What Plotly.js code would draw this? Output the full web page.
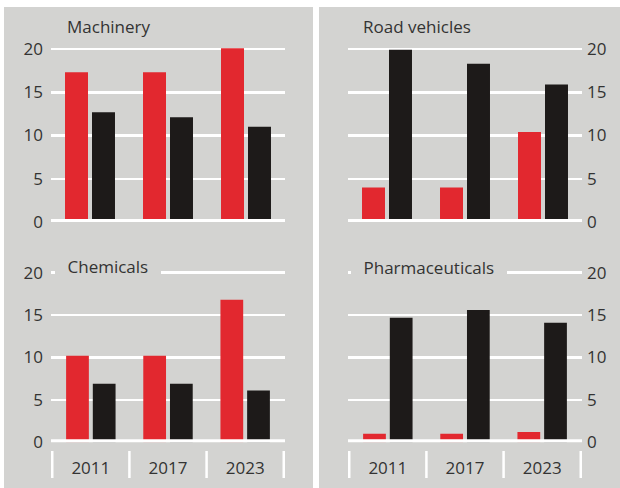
<!DOCTYPE html>
<html>
<head>
<meta charset="utf-8">
<script src="https://cdn.plot.ly/plotly-3.0.1.min.js"></script>
<style>html,body{margin:0;padding:0;background:#fff;}#chart{width:620px;height:488px;}</style>
</head>
<body>
<div id="chart"></div>
<script>
const categories = ['2011', '2017', '2023'];
const panelTitles = ['Machinery', 'Road vehicles', 'Chemicals', 'Pharmaceuticals'];
const machineryRed = [17.3, 17.3, 20.1];
const machineryBlack = [12.7, 12.1, 11.0];
const roadRed = [4.0, 4.0, 10.4];
const roadBlack = [19.9, 18.3, 15.9];
const chemicalsRed = [10.2, 10.2, 16.8];
const chemicalsBlack = [6.9, 6.9, 6.1];
const pharmaRed = [1.0, 1.0, 1.2];
const pharmaBlack = [14.7, 15.6, 14.1];
const yTicks = [0, 5, 10, 15, 20];

const RED = '#e2282f', BLACK = '#1d1a19', GREY = '#d3d3d1', TXT = '#333333';
const W = 620, H = 488;
const fx = p => p / W;
const fy = p => 1 - p / H;

const series = [
  [machineryRed, machineryBlack],
  [roadRed, roadBlack],
  [chemicalsRed, chemicalsBlack],
  [pharmaRed, pharmaBlack]
];
const axisIds = [['x', 'y'], ['x2', 'y2'], ['x3', 'y3'], ['x4', 'y4']];

const traces = [];
series.forEach((pair, i) => {
  pair.forEach((vals, j) => {
    traces.push({
      type: 'bar', x: categories, y: vals,
      xaxis: axisIds[i][0], yaxis: axisIds[i][1],
      marker: {color: j === 0 ? RED : BLACK},
      showlegend: false, hoverinfo: 'skip'
    });
  });
});

const font = {family: 'Open Sans, sans-serif', size: 17, color: TXT};
const xLeft = [fx(51), fx(285)], xRight = [fx(348), fx(582)];
const yTop = [fy(222), fy(222 - 21 * 8.65)];
const yBot = [fy(442.3), fy(442.3 - 21 * 8.48)];

function xa(domain, anchor, labels) {
  return {domain: domain, anchor: anchor, type: 'category', showgrid: false, zeroline: false,
    showline: false, ticks: '', showticklabels: labels, tickfont: font, ticklabelstandoff: 14,
    fixedrange: true};
}
function ya(domain, anchor, side) {
  return {domain: domain, anchor: anchor, side: side, range: [0, 21], tickvals: yTicks,
    showgrid: true, gridcolor: '#ffffff', gridwidth: 2.5, zeroline: false, showline: false,
    ticks: '', tickfont: font, ticklabelstandoff: side === 'left' ? 7 : 4, fixedrange: true};
}

const shapes = [
  {type: 'rect', xref: 'paper', yref: 'paper', x0: fx(4), x1: fx(313), y0: 0, y1: fy(7), fillcolor: GREY, line: {width: 0}, layer: 'below'},
  {type: 'rect', xref: 'paper', yref: 'paper', x0: fx(319), x1: 1, y0: 0, y1: fy(7), fillcolor: GREY, line: {width: 0}, layer: 'below'}
];
// thick zero baselines
axisIds.forEach(ids => {
  shapes.push({type: 'line', xref: ids[0] + ' domain', yref: ids[1], x0: 0, x1: 1, y0: 0, y1: 0,
    line: {color: '#ffffff', width: 6}, layer: 'above'});
});
// category separators under the bottom panels
['x3', 'x4'].forEach(xr => {
  for (let k = 0; k <= categories.length; k++) {
    shapes.push({type: 'line', xref: xr, yref: 'paper', x0: k - 0.5, x1: k - 0.5,
      y0: fy(478), y1: fy(451), line: {color: '#ffffff', width: 2.5}});
  }
});

const titlePos = [[67, 27], [363, 27], [67, 266], [363, 267]];
const annotations = panelTitles.map((t, i) => ({
  text: t, xref: 'paper', yref: 'paper', x: fx(titlePos[i][0] - 8), y: fy(titlePos[i][1]),
  xanchor: 'left', yanchor: 'middle', showarrow: false, font: font,
  bgcolor: i >= 2 ? GREY : 'rgba(0,0,0,0)', borderpad: 4, borderwidth: 0
}));
annotations.forEach(a => { a.x = a.x; });

const layout = {
  width: W, height: H, margin: {l: 0, r: 0, t: 0, b: 0},
  paper_bgcolor: '#ffffff', plot_bgcolor: 'rgba(0,0,0,0)',
  font: font, barmode: 'group', bargap: 0.308, bargroupgap: 0.148,
  xaxis: xa(xLeft, 'y', false), yaxis: ya(yTop, 'x', 'left'),
  xaxis2: xa(xRight, 'y2', false), yaxis2: ya(yTop, 'x2', 'right'),
  xaxis3: xa(xLeft, 'y3', true), yaxis3: ya(yBot, 'x3', 'left'),
  xaxis4: xa(xRight, 'y4', true), yaxis4: ya(yBot, 'x4', 'right'),
  shapes: shapes, annotations: annotations
};
// pad annotation boxes horizontally to break the grid line like the original
layout.annotations.forEach((a, i) => {
  if (i >= 2) { a.text = '\u2002' + a.text + '\u2002'; a.x = fx(titlePos[i][0] - 12); }
  else { a.x = fx(titlePos[i][0]); a.borderpad = 0; }
});

Plotly.newPlot('chart', traces, layout, {displayModeBar: false, staticPlot: true});
</script>
</body>
</html>
